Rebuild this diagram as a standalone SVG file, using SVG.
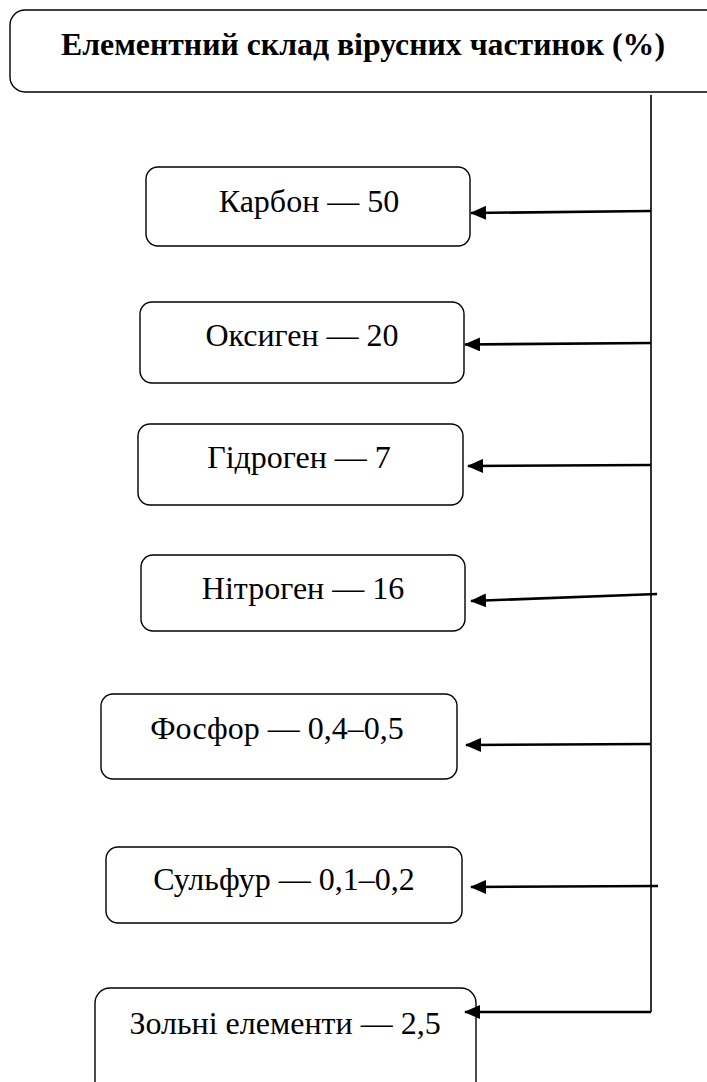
<svg xmlns="http://www.w3.org/2000/svg" width="707" height="1082" viewBox="0 0 707 1082">
<defs>
<style>
.box{fill:#fff;stroke:#000;stroke-width:1.4}
.lbl{font-family:"Liberation Serif","Times New Roman",serif;font-size:32px;fill:#000;text-anchor:middle}
.ttl{font-family:"Liberation Serif","Times New Roman",serif;font-size:31px;font-weight:bold;fill:#000;text-anchor:middle}
.arr{fill:none;stroke:#000;stroke-width:2.6;marker-end:url(#ah)}
.spine{fill:none;stroke:#000;stroke-width:1.6}
</style>
<marker id="ah" markerUnits="userSpaceOnUse" markerWidth="16" markerHeight="14" refX="15" refY="7" orient="auto">
<path d="M0,0 L16,7 L0,14 Z" fill="#000"/>
</marker>
</defs>
<rect width="707" height="1082" fill="#fff"/>
<g id="title">
<rect class="box" x="10" y="10" width="730" height="82" rx="15"/>
<text class="ttl" x="363" y="55" textLength="604" lengthAdjust="spacingAndGlyphs">Елементний склад вірусних частинок (%)</text>
</g>
<g id="carbon">
<rect class="box" x="146" y="167" width="324" height="79" rx="12"/>
<text class="lbl" x="309" y="212">Карбон — 50</text>
</g>
<g id="oxygen">
<rect class="box" x="140" y="302" width="324" height="81" rx="12"/>
<text class="lbl" x="302" y="346">Оксиген — 20</text>
</g>
<g id="hydrogen">
<rect class="box" x="138" y="424" width="325" height="81" rx="12"/>
<text class="lbl" x="299" y="468">Гідроген — 7</text>
</g>
<g id="nitrogen">
<rect class="box" x="141" y="555" width="324" height="76" rx="12"/>
<text class="lbl" x="303" y="599">Нітроген — 16</text>
</g>
<g id="phosphorus">
<rect class="box" x="101" y="694" width="356" height="85" rx="12"/>
<text class="lbl" x="277" y="739">Фосфор — 0,4–0,5</text>
</g>
<g id="sulfur">
<rect class="box" x="106" y="847" width="356" height="76" rx="12"/>
<text class="lbl" x="284" y="890">Сульфур — 0,1–0,2</text>
</g>
<g id="ash">
<rect class="box" x="95" y="988" width="381" height="120" rx="15"/>
<text class="lbl" x="285" y="1034">Зольні елементи — 2,5</text>
</g>
<g id="connectors">
<line class="spine" x1="651" y1="95" x2="651" y2="1012"/>
<line class="arr" x1="651" y1="211" x2="471" y2="213"/>
<line class="arr" x1="651" y1="343" x2="465" y2="344.5"/>
<line class="arr" x1="651" y1="465" x2="468" y2="466"/>
<line class="arr" x1="657" y1="594" x2="471" y2="601"/>
<line class="arr" x1="651" y1="744" x2="466" y2="745"/>
<line class="arr" x1="658" y1="886" x2="471" y2="887"/>
<line class="arr" x1="651" y1="1012" x2="465" y2="1012"/>
</g>
</svg>
